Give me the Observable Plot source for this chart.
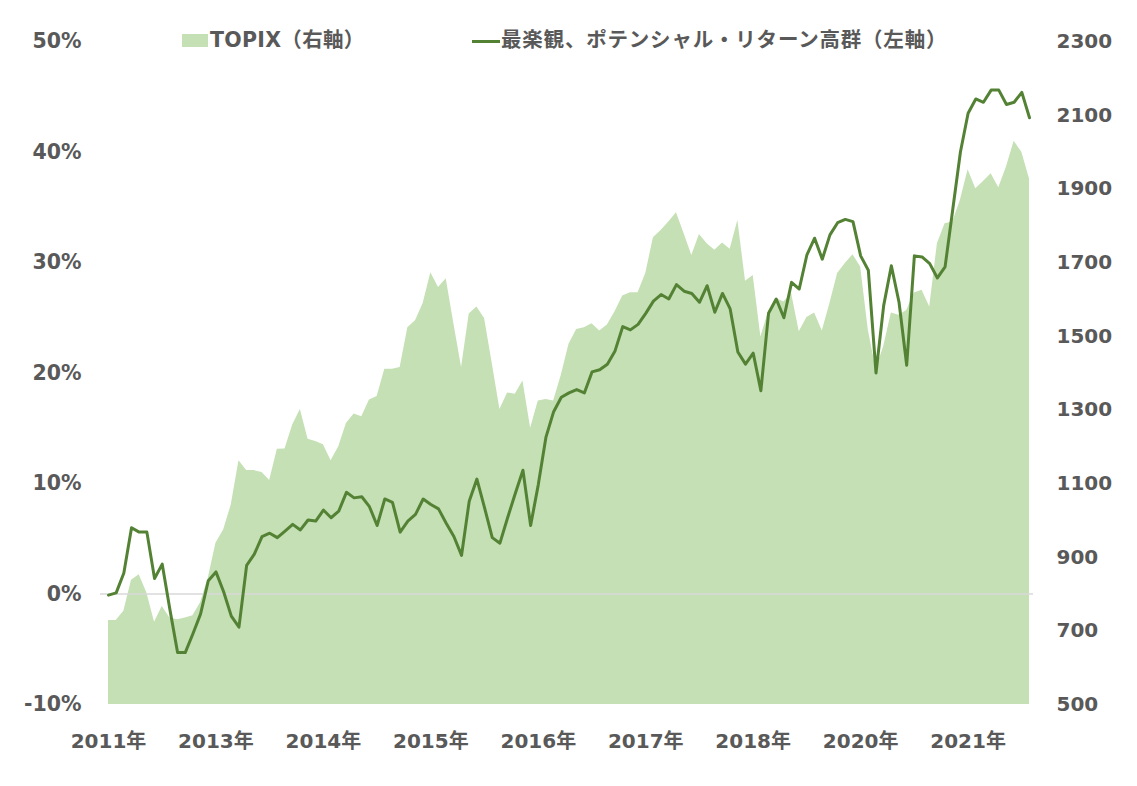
<!DOCTYPE html>
<html>
<head>
<meta charset="utf-8">
<script src="https://cdn.jsdelivr.net/npm/d3@7"></script>
<script src="https://cdn.jsdelivr.net/npm/@observablehq/plot@0.6"></script>
<style>
  html, body { margin: 0; padding: 0; background: #fff; overflow: hidden; }
  #wrap { position: relative; width: 1137px; height: 786px; }
  .lg { position: absolute; font-family: "DejaVu Sans", "Noto Sans CJK JP", sans-serif; font-weight: bold; font-size: 20.5px; color: #595959; white-space: nowrap; line-height: 1; }
</style>
</head>
<body>
<div id="wrap"></div>
<script>
// Monthly series (Nov 2011 – Nov 2021)
const returnPct = [
  -0.1, 0.1, 1.9, 6.0, 5.6, 5.6, 1.4, 2.7, -1.4, -5.3,
  -5.3, -3.6, -1.8, 1.2, 2.0, 0.2, -2.0, -3.0, 2.6, 3.6,
  5.2, 5.5, 5.1, 5.7, 6.3, 5.8, 6.7, 6.6, 7.6, 6.9,
  7.5, 9.2, 8.7, 8.8, 7.9, 6.2, 8.6, 8.3, 5.6, 6.6,
  7.2, 8.6, 8.1, 7.7, 6.4, 5.2, 3.5, 8.4, 10.4, 7.8,
  5.1, 4.6, 6.9, 9.1, 11.2, 6.2, 9.9, 14.2, 16.5, 17.8,
  18.2, 18.5, 18.2, 20.1, 20.3, 20.8, 22.0, 24.2, 23.9, 24.4,
  25.4, 26.5, 27.1, 26.7, 28.0, 27.4, 27.2, 26.4, 27.9, 25.5,
  27.2, 25.8, 21.9, 20.8, 21.8, 18.4, 25.4, 26.7, 25.0, 28.2,
  27.6, 30.7, 32.2, 30.3, 32.5, 33.6, 33.9, 33.7, 30.6, 29.3,
  20.0, 26.1, 29.7, 26.4, 20.7, 30.6, 30.5, 29.9, 28.6, 29.6,
  34.8, 40.0, 43.5, 44.8, 44.5, 45.6, 45.6, 44.3, 44.5, 45.4,
  43.1
];
const topix = [
  728, 728, 753, 837, 852, 803, 723, 766, 735, 730,
  735, 741, 776, 843, 938, 974, 1042, 1162, 1135, 1135,
  1130, 1108, 1193, 1194, 1259, 1301, 1220, 1214, 1205, 1162,
  1200, 1263, 1289, 1281, 1327, 1336, 1410, 1410, 1415, 1523,
  1542, 1589, 1672, 1632, 1656, 1534, 1415, 1560, 1579, 1548,
  1426, 1301, 1346, 1342, 1378, 1250, 1324, 1328, 1324, 1394,
  1478, 1518, 1523, 1534, 1514, 1530, 1566, 1609, 1618, 1618,
  1670, 1767, 1787, 1810, 1835, 1778, 1719, 1776, 1751, 1733,
  1753, 1736, 1814, 1649, 1665, 1498, 1566, 1602, 1593, 1616,
  1512, 1551, 1563, 1514, 1589, 1670, 1697, 1721, 1688, 1516,
  1410, 1471, 1563, 1557, 1570, 1617, 1625, 1579, 1751, 1805,
  1810, 1869, 1952, 1900, 1920, 1941, 1903, 1959, 2029, 1999,
  1927
];
const xTickIndex = [0, 14, 28, 42, 56, 70, 84, 98, 112];
const xTickLabels = ["2011年", "2013年", "2014年", "2015年", "2016年", "2017年", "2018年", "2020年", "2021年"];
const leftTicks = [-10, 0, 10, 20, 30, 40, 50];
const rightTicks = [500, 700, 900, 1100, 1300, 1500, 1700, 1900, 2100, 2300];
const legendArea = "TOPIX（右軸）";
const legendLine = "最楽観、ポテンシャル・リターン高群（左軸）";

// right-axis (TOPIX) mapped onto the left (%) scale: 500 -> -10%, 2300 -> 50%
const leftDomain = [-10, 50];
const rightDomain = [500, 2300];
const toLeft = v => leftDomain[0] + (v - rightDomain[0]) * (leftDomain[1] - leftDomain[0]) / (rightDomain[1] - rightDomain[0]);
const toRight = p => rightDomain[0] + (p - leftDomain[0]) * (rightDomain[1] - rightDomain[0]) / (leftDomain[1] - leftDomain[0]);

const table = returnPct.map((r, i) => ({i, ret: r, topix: topix[i]}));

const FONT = '"DejaVu Sans", "Noto Sans CJK JP", sans-serif';
const TXT = "#595959";

const chart = Plot.plot({
  width: 1137,
  height: 786,
  marginLeft: 108,
  marginRight: 108,
  marginTop: 41,
  marginBottom: 82,
  style: {fontFamily: FONT, fontSize: "20px", fontWeight: "bold", color: TXT, background: "#fff"},
  x: {domain: [0, returnPct.length - 1], axis: null},
  y: {domain: leftDomain, axis: null},
  marks: [
    Plot.areaY(table, {x: "i", y1: () => leftDomain[0], y2: d => toLeft(d.topix), fill: "#c5e0b4", fillOpacity: 1}),
    Plot.ruleY([0], {stroke: "#d9d9d9", strokeWidth: 1.3, insetLeft: -8, insetRight: -4}),
    Plot.lineY(table, {x: "i", y: "ret", stroke: "#548235", strokeWidth: 3, strokeLinejoin: "round"}),
    Plot.axisY(leftTicks, {anchor: "left", label: null, tickSize: 0, tickPadding: 27, tickFormat: d => d + "%", fontSize: 20.5, fontWeight: "bold", fill: TXT}),
    Plot.axisY(rightTicks.map(toLeft), {anchor: "right", label: null, tickSize: 0, tickPadding: 27, tickFormat: d => String(Math.round(toRight(d))), fontSize: 20, fontWeight: "bold", fill: TXT}),
    Plot.axisX(xTickIndex, {anchor: "bottom", label: null, tickSize: 0, tickPadding: 29, tickFormat: d => xTickLabels[xTickIndex.indexOf(d)], fontSize: 20, fontWeight: "bold", fill: TXT})
  ]
});

const wrap = document.getElementById("wrap");
wrap.appendChild(chart);
chart.style.position = "absolute";
chart.style.left = "0px";
chart.style.top = "0px";

// legend overlay
const sw = document.createElement("div");
sw.style.cssText = "position:absolute;left:182px;top:34px;width:26px;height:13px;background:#c5e0b4;";
wrap.appendChild(sw);
const t1 = document.createElement("div");
t1.className = "lg";
t1.style.left = "210px"; t1.style.top = "30px";
t1.style.letterSpacing = "0.3px";
t1.textContent = legendArea;
wrap.appendChild(t1);
const ln = document.createElement("div");
ln.style.cssText = "position:absolute;left:472px;top:39.5px;width:28px;height:3px;background:#548235;";
wrap.appendChild(ln);
const t2 = document.createElement("div");
t2.className = "lg";
t2.style.left = "501px"; t2.style.top = "30px";
t2.style.letterSpacing = "0.8px";
t2.textContent = legendLine;
wrap.appendChild(t2);
</script>
</body>
</html>
